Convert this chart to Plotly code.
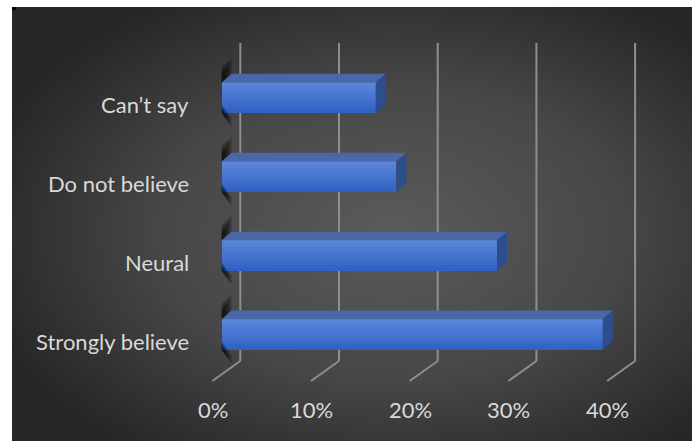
import base64
import plotly.graph_objects as go

# ---------------- data ----------------
categories = ["Strongly believe", "Neural", "Do not believe", "Can’t say"]
values = [38.6, 27.9, 17.7, 15.6]          # percent
tick_values = [0, 10, 20, 30, 40]
tick_labels = ["0%", "10%", "20%", "30%", "40%"]

# ---------------- geometry (pixel helpers) ----------------
W, H = 699, 441
X0_PX = 221.7        # pixel of 0% on bar front plane
PX_PER_PCT = 9.87
Y0_PX = 334.5        # pixel centre of first category
PX_PER_CAT = 78.9


def dxp(px):
    return px / PX_PER_PCT


def dyp(px):
    return px / PX_PER_CAT


def ypix(py):
    return (Y0_PX - py) / PX_PER_CAT


BAR_H = dyp(30.5)
DEPTH_X = dxp(10)
DEPTH_Y = dyp(8.7)
BACK_OFF = dxp(18.6)

TEXT = "#d9d9d9"
FONT = "Lato, Carlito, Calibri, 'Open Sans', sans-serif"

fig = go.Figure()

# background radial gradient
svg = (
    "<svg xmlns='http://www.w3.org/2000/svg' width='680' height='434' preserveAspectRatio='none'>"
    "<defs><radialGradient id='g' cx='0.56' cy='0.52' r='0.62'>"
    "<stop offset='0' stop-color='#5b5b5b'/><stop offset='0.55' stop-color='#474747'/>"
    "<stop offset='1' stop-color='#272727'/></radialGradient></defs>"
    "<rect width='680' height='434' fill='url(#g)'/></svg>"
)
src = "data:image/svg+xml;base64," + base64.b64encode(svg.encode()).decode()

shapes = []
# gridlines on back wall + floor diagonals
y_top, y_bot, y_front = ypix(43), ypix(361), ypix(381)
for t in tick_values:
    xb = t + BACK_OFF
    shapes.append(dict(type="line", xref="x", yref="y", x0=xb, x1=xb, y0=y_bot, y1=y_top,
                       line=dict(color="#8e8e8e", width=2), layer="below"))
    shapes.append(dict(type="line", xref="x", yref="y", x0=xb, x1=xb - dxp(28), y0=y_bot, y1=y_front,
                       line=dict(color="#8e8e8e", width=2), layer="below"))

# tiny black mark at top-left corner
shapes.append(dict(type="rect", xref="paper", yref="paper", x0=12 / W, x1=16 / W,
                   y0=1 - 10 / H, y1=1 - 7 / H, fillcolor="black", line=dict(width=0), layer="above"))

# left wall soft shadows near each bar (layered for a gradient look)
for i, v in enumerate(values):
    top = i + BAR_H / 2
    bot = i - BAR_H / 2
    for k in range(5):
        s = k * 2.2          # pixel shrink per layer
        xr = DEPTH_X - dxp(k * 1.6)
        xs = [0, 0, xr, xr, 0]
        ys = [top, top + dyp(16 - s), top + dyp(26 - s) * 0 + dyp(16 - s) + (xr / DEPTH_X) * DEPTH_Y,
              top + (xr / DEPTH_X) * DEPTH_Y, top]
        fig.add_trace(go.Scatter(x=xs, y=ys, fill="toself", mode="none",
                                 fillcolor="rgba(0,0,0,0.2)", hoverinfo="skip", showlegend=False))
        ys2 = [bot, bot + (xr / DEPTH_X) * DEPTH_Y, bot + (xr / DEPTH_X) * DEPTH_Y - dyp(14 - s),
               bot - dyp(14 - s), bot]
        fig.add_trace(go.Scatter(x=xs, y=ys2, fill="toself", mode="none",
                                 fillcolor="rgba(0,0,0,0.2)", hoverinfo="skip", showlegend=False))

# front faces as gradient bands of horizontal bars
idx = list(range(len(categories)))
N = 10
c_top = (0x5c, 0x86, 0xd9)
c_bot = (0x2e, 0x60, 0xc2)
for j in range(N):
    f = (j + 0.5) / N  # 0 bottom -> 1 top
    col = tuple(int(round(c_bot[k] + (c_top[k] - c_bot[k]) * f)) for k in range(3))
    fig.add_trace(go.Bar(
        x=values, y=idx, orientation="h", base=0,
        width=BAR_H / N * 1.08, offset=-BAR_H / 2 + j * BAR_H / N,
        marker=dict(color="rgb(%d,%d,%d)" % col, line=dict(width=0)),
        hoverinfo="skip", showlegend=False))

# top and side faces
for i, v in enumerate(values):
    top = i + BAR_H / 2
    bot = i - BAR_H / 2
    fig.add_trace(go.Scatter(
        x=[0, v, v + DEPTH_X, DEPTH_X, 0], y=[top, top, top + DEPTH_Y, top + DEPTH_Y, top],
        fill="toself", mode="none", fillcolor="#4a67a8", hoverinfo="skip", showlegend=False))
    fig.add_trace(go.Scatter(
        x=[v, v + DEPTH_X, v + DEPTH_X, v, v], y=[bot, bot + DEPTH_Y, top + DEPTH_Y, top, bot],
        fill="toself", mode="none", fillcolor="#2c4d8e", hoverinfo="skip", showlegend=False))

annotations = []
for i, c in enumerate(categories):
    annotations.append(dict(x=dxp(191 - X0_PX), y=i - dyp(7), xref="x", yref="y", text=c,
                            xanchor="right", yanchor="middle", showarrow=False,
                            font=dict(family=FONT, size=22, color=TEXT)))
for t, lab in zip(tick_values, tick_labels):
    annotations.append(dict(x=t + BACK_OFF - dxp(27.7), y=ypix(409), xref="x", yref="y", text=lab,
                            xanchor="center", yanchor="middle", showarrow=False,
                            font=dict(family=FONT, size=22, color=TEXT)))

fig.update_layout(
    width=W, height=H,
    margin=dict(l=0, r=0, t=0, b=0, pad=0),
    paper_bgcolor="white", plot_bgcolor="rgba(0,0,0,0)",
    barmode="overlay", bargap=0,
    xaxis=dict(range=[-X0_PX / PX_PER_PCT, (W - X0_PX) / PX_PER_PCT], visible=False, fixedrange=True),
    yaxis=dict(range=[(Y0_PX - H) / PX_PER_CAT, Y0_PX / PX_PER_CAT], visible=False, fixedrange=True),
    images=[dict(source=src, xref="paper", yref="paper", x=12 / W, y=1 - 7 / H,
                 sizex=(692 - 12) / W, sizey=(H - 7) / H, sizing="stretch",
                 xanchor="left", yanchor="top", layer="below")],
    shapes=shapes,
    annotations=annotations,
    showlegend=False,
    hovermode=False,
)

fig.write_html("out.html", config={"displayModeBar": False})
